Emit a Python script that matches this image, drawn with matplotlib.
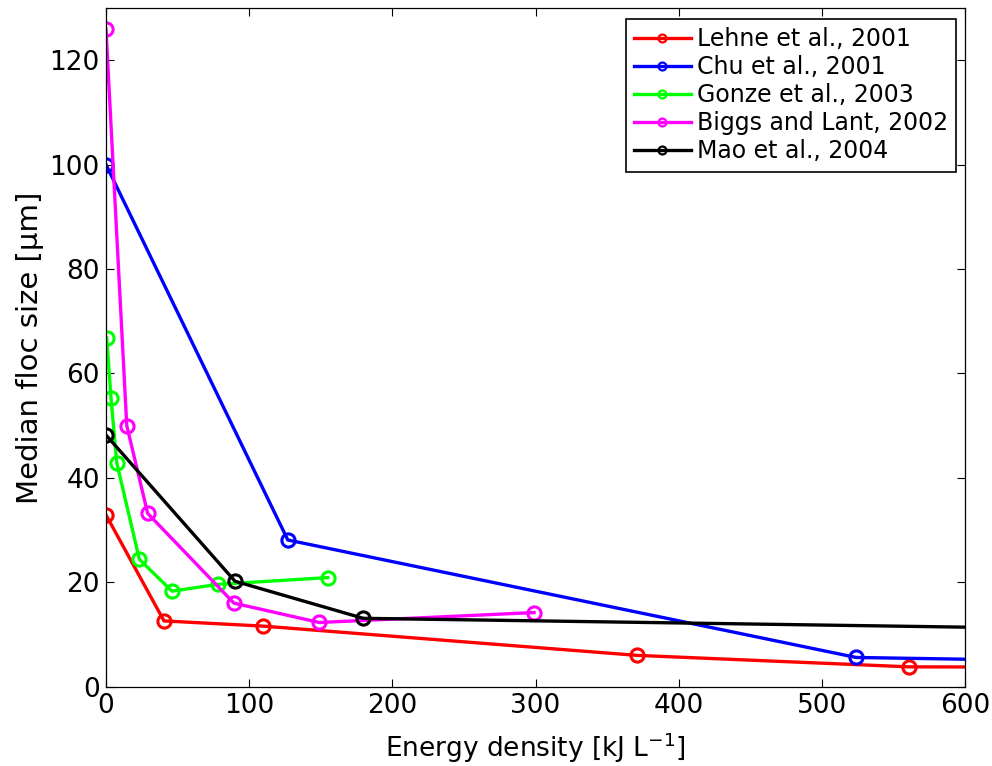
import matplotlib
matplotlib.use("Agg")
import matplotlib.pyplot as plt

# Energy density [kJ/L] vs median floc size [um]
lehne_x = [0, 40.5, 110, 371, 561, 750]
lehne_y = [32.9, 12.6, 11.6, 6.0, 3.8, 3.7]

chu_x = [0, 127, 524, 750]
chu_y = [100, 28.1, 5.6, 4.6]

gonze_x = [0.5, 3.5, 7.5, 23.3, 46.1, 78.1, 154.9]
gonze_y = [66.8, 55.3, 42.9, 24.4, 18.3, 19.6, 20.9]

biggs_x = [0, 14.5, 29.1, 89.4, 149, 299]
biggs_y = [125.9, 50.0, 33.2, 16.0, 12.3, 14.2]

mao_x = [0, 90.1, 179.7, 750]
mao_y = [48.2, 20.2, 13.1, 10.8]

series = [
    ("Lehne et al., 2001", lehne_x, lehne_y, "#ff0000"),
    ("Chu et al., 2001", chu_x, chu_y, "#0000ff"),
    ("Gonze et al., 2003", gonze_x, gonze_y, "#00ff00"),
    ("Biggs and Lant, 2002", biggs_x, biggs_y, "#ff00ff"),
    ("Mao et al., 2004", mao_x, mao_y, "#000000"),
]

plt.rcParams["font.family"] = ["DejaVu Sans"]

fig = plt.figure(figsize=(9.92, 7.66), dpi=100)
ax = fig.add_axes([106 / 992, 1 - 686.7 / 766, (965 - 106) / 992, (686.7 - 8) / 766])

for label, xs, ys, color in series:
    ax.plot(xs, ys, color=color, lw=2.4, marker="o", ms=9.5, mfc="none",
            mew=2.2, label=label, clip_on=True)

ax.set_xlim(0, 600)
ax.set_ylim(0, 130)
ax.set_xticks(range(0, 601, 100))
ax.set_yticks(range(0, 121, 20))
ax.tick_params(direction="in", top=True, right=True, length=6, width=0.8,
               labelsize=19, pad=4.5)
for sp in ax.spines.values():
    sp.set_linewidth(0.9)

ax.set_xlabel("Energy density [kJ L$^{-1}$]", fontsize=19, labelpad=8)
ax.set_ylabel("Median floc size [\u03bcm]", fontsize=21, labelpad=4)

leg = ax.legend(loc="upper right", fontsize=17, markerscale=0.6,
                handlelength=2.4, handletextpad=0.25, labelspacing=0.17,
                borderpad=0.35, borderaxespad=0, fancybox=False,
                edgecolor="black", framealpha=1,
                bbox_to_anchor=(1 - 9 / 859, 1 - 11 / 678))
leg.get_frame().set_linewidth(1.2)
for h in leg.legend_handles:
    h.set_markeredgewidth(1.6)

fig.savefig("out.png", dpi=100)
